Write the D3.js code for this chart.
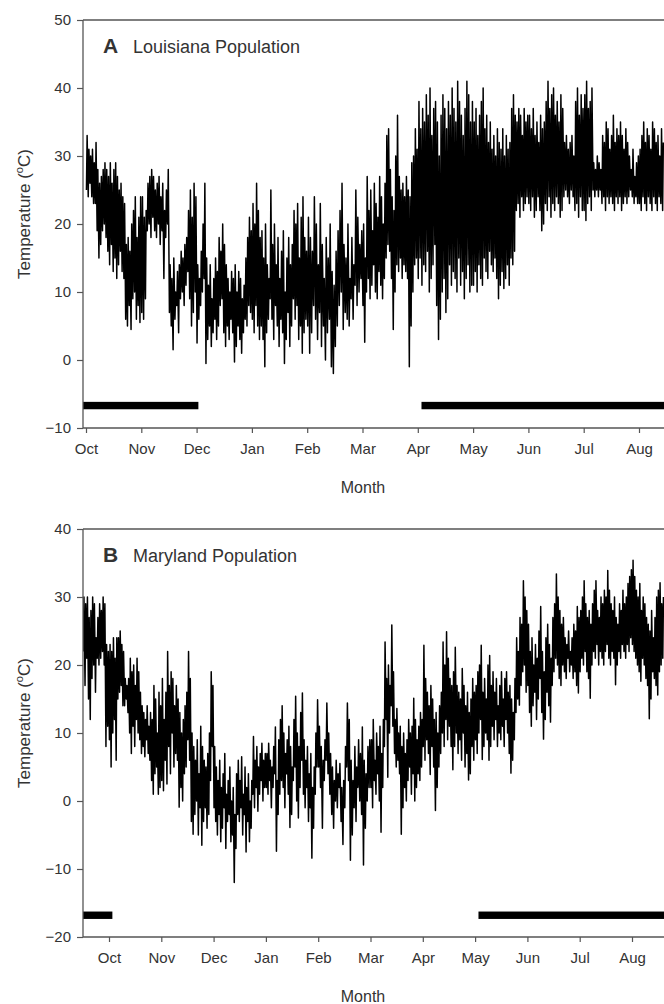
<!DOCTYPE html>
<html>
<head>
<meta charset="utf-8">
<script src="https://cdn.jsdelivr.net/npm/d3@7"></script>
<style>
  html, body { margin: 0; padding: 0; background: #fff; }
  svg { display: block; }
  text { font-family: "Liberation Sans", Arial, Helvetica, sans-serif; fill: #333; }
</style>
</head>
<body>
<script>
// ---------------- DATA ----------------
const monthLabels = ["Oct","Nov","Dec","Jan","Feb","Mar","Apr","May","Jun","Jul","Aug"];
const yTicksA = [-10, 0, 10, 20, 30, 40, 50];
const yTicksB = [-20, -10, 0, 10, 20, 30, 40];

// Louisiana: daily maximum / minimum temperature (°C), starting 2002-10-01
const louisianaStart = "2002-10-01";
const louisianaHigh = [
  33,31,30,31,29,32,28, 26,27,28, 29,28,27,29,26,28,29,27,25,26,24,23, 17,18,16,20,22,24,18,21,24,      // Oct
  24,21,22, 26,27,28,27,25,26,27,24,26,22,25, 28, 14,12,15,10,13,14,16, 15,17,18,22, 25,21,26,24,        // Nov
  14,12,16,20,26, 15,11,14,9,12, 15,13,18,16,20, 17,14,12,10,13, 12,14,10,13,12, 9,11,15,18,21, 19,      // Dec
  23,20,26,22,18, 19,15,20,14,12, 25,17,20,14,18, 12,16,19,10,15, 18,14,17,22,20, 23,15,21,24,18, 16,    // Jan
  21,18,16,24,20, 14,23,17,12,18, 15,20,13,11,16, 19,22,26,17,15, 20,12,18,14,25, 21,17,19,              // Feb
  20,15,27,22,25, 19,26,23,21,27, 24,20,26,33,34, 28,24,22,30,36, 27,25,26,24,27, 25,24,29,30,34, 31,    // Mar
  38,34,37,35,39, 36,40,33,37,38, 35,30,36,39,37, 34,38,36,40,37, 35,41,38,36,33, 37,41,39,35,38,        // Apr
  35,37,33,36,38, 40,34,36,32,35, 31,33,30,34,32, 31,34,30,33,31, 32,37,39,36,35, 37,36,33,37,35, 36,    // May
  36,34,37,33,35, 32,36,34,35,38, 41,37,39,40,36, 38,35,39,37,32, 33,31,32,33,30, 38,40,36,39,37,        // Jun
  39,41,37,38,40, 29,28,30,29,28, 33,32,35,34,31, 33,36,32,34,33, 35,33,31,34,32, 30,28,31,27,29, 30,    // Jul
  31,33,35,32,34, 33,31,35,34,32, 33,30,34,32                                                            // Aug
];
const louisianaLow = [
  25,24,26,24,23,23,19, 15,17,19, 20,18,16,14,17,13,15,12,14,16,13,12, 6,5,8,4.5,9,10,6,8,5.5,           // Oct
  7,6,9, 19,20,18,21,19,18,20,17,19,12,18, 20, 7,5,1.5,6,8,4,9, 10,8,11,13, 9,5,7,10,                    // Nov
  2.5,6,8,10,12, -0.5,3,5,2,4, 6,3,5,8,9, 4,2,5,3,6, 4,-0.3,2,5,3, 1,4,6,5,8, 7,                          // Dec
  6,4,8,5,3, 5,3,-1,4,6, 9,6,3,8,5, 2,6,4,-0.5,3, 7,2,5,9,6, 8,3,5,1,4, 6,                                // Jan
  5,1,4,8,6, 3,7,2,5,0, 4,6,-1,-2,2, 5,8,10,4.5,7, 6,5,9,6,11, 8,10,12,                                   // Feb
  8,2.6,10,12,9, 11,14,10,9,13, 11,9,12,15,17, 16,12,4.5,10,14, 13,15,12,14,13, 12,-1,5,10,14, 15,        // Mar
  12,15,11,14,13, 16,10,12,14,17, 8,3,6,10,12, 7,9,14,11,13, 12,10,15,11,13, 9,12,14,10,11,               // Apr
  11,13,10,14,12, 11,15,13,12,16, 14,13,15,12,9, 11,13,10.5,12,14, 11,15,14,16,22, 23,21,24,22,23, 24,    // May
  23,22,24,21,22, 24,22,19,20,23, 22,24,21,23,22, 24,23,21,22,24, 25,24,23,25,24, 22,23,21,24,22,         // Jun
  22,20.5,23,24,22, 25,24,25,24,25, 23,24,22,24,23, 24,23,22,24,23, 24,22,23,24,23, 24,25,24,23,24, 23,   // Jul
  23,22,24,23,22, 24,23,22,24,23, 22,24,23,22                                                             // Aug
];

// Maryland: daily maximum / minimum temperature (°C), starting 2002-09-16
const marylandStart = "2002-09-16";
const marylandHigh = [
  30,29,30,27,28, 30,29,24,27,29, 28,30,29,23,22,                                                          // Sep 16-30
  23,22,24,21,24, 24,25,23,22,18, 17,18,21,19,20, 17,21,19,16,14, 13,12,14,11,13, 12,17,15,10,16, 14,      // Oct
  18,12,16,22,17, 19,18,14,17,15, 13,10,12,14,16, 22,18,10,8,6, 9,4,11,8,6, 5,7,10,19,17,                  // Nov
  8,5,3,6,2, 4,7,1,3,5, 0,2,-2,4,6, 3,6.5,1,5,2, 4,0,3,9.5,6, 8,5,7,8.5,6, 7,                               // Dec
  7,8.5,6,5,8, 10.9,3,9,12,14, 10,7,9,11,8, 5,12,15.4,10,8, 13,15.9,9,6,8, 4,7,2,5,10, 14.9,               // Jan
  11,8,6,9,14.4, 10,7,5,3,6, 4,5.5,2,3,8, 14.4,12,6,3,8, 5,9,7,10.9,6, 4,8,9,                               // Feb
  9,12,6,10,8, 11,7,12,23.4,18, 20,17,25.9,19,12, 13.6,10,11,8,10, 7,9,12,10,11, 15.1,12,9,11,13, 12,      // Mar
  22.9,18,16,14,17, 15,12,13,10,14, 16,23.4,20,24.9,21, 18,17,19,22.6,17, 16,15,19.5,17,14, 16,13,15,18,16, // Apr
  17,19,20,22.9,16, 18,15,20,21.4,17, 19,16,18,14,17, 19,15,18,19,16, 17,15,13,18,24, 22,27,26,32.4,30, 28, // May
  26,22,24,20,23, 21,25,28.6,22,19, 24,26,23,21,27, 29,33.4,30,28,26, 27,24,23,25,22, 24,26,25,28.6,27,    // Jun
  28,30,32.4,29,27, 28,26,29,31,32.4, 28,27,30,29,31, 30,33.9,31,29,28, 30,27,26,29,28, 31,29,30,32,33, 34, // Jul
  35.4,33,31,30,32, 28,30,29,27,26, 25,28,24,27,30, 31,32.1,29,30                                          // Aug
];
const marylandLow = [
  22,17,21,15,12, 18,20,16,21,20, 21,22,20,8,11,                                                           // Sep 16-30
  9,5,10,12,6, 15,16,17,14,14, 15,13,10,7,11, 8,12,10,9,7, 8,6.5,9,7,6, 3,1,4,5,1, 2,                        // Oct
  3,1.5,6,2.5,8, 4,10,5,7,6, -0.9,2,0,4,5, 9,6,-3,-4.9,-2, 0,-5,-1,-6.5,-3, -1,-4,-2,3,8,                     // Nov
  -1,-3,-5,-2,-6, -4,-1,-7,-3,-2, -6,-5,-12,-7,-2, -3,-1,-5,-2,-7.5, -3,-6,-4,1,-1, 2,-1.5,1,3,0, 2,          // Dec
  2,1,3,-1,2, 4,-7.4,-2,1,3, 2,-1,4,1,-3.9, -2,3,5,0,-2.5, 2,6,1,-1,2, -3,-1,-8.4,-4,1, 5,                     // Jan
  5,2,-4,3,6, 4,1,-2,-4,0, -1,2,-3,-6.4,-1, 5,3,-8.7,-5,-1, -3,2,0,-2,-9.4, -4,0,2,                            // Feb
  2,-1,3,1,4, 0,-4.6,2,8,12, 3.5,10,14,11,7, 5,6,4,-4.9,-1, 2,0,3,5,1, 4,0,2,4,3, 5,                          // Mar
  8,6,9,7,3.9, 8,5,-1.4,2,5, 7,10,8,12,9, 11,8,4.6,8,10, 7,9,6,10,5, 7,3.1,4,8,6,                              // Apr
  9,7,10,12,6.1, 8,10,9,6,8, 11,9,12,8,10, 9,11,8,12,10, 7,4.1,6,9,13, 15,14.1,17,19,20, 16,                  // May
  17,13,11,14,16, 12,15,18,13,9.1, 12,16,14,11.6,17, 19,21,20,18,17, 20,19,18,21,19, 20,18,19,17,15.9,         // Jun
  19,21,20,22,19, 18,15.1,20,22,21, 23,20,22,21,20, 22,23,21,20,22, 21,17.1,20,22,21, 23,22,21,23,22, 24,      // Jul
  23,22,21,20,19, 17.6,21,20,18,17, 12.1,15,19,18,17, 15.6,19,20,21                                           // Aug
];

// Black bars (date ranges) and their level (°C)
const louisianaBars = [["2002-09-20", "2002-12-02"], ["2003-04-03", "2003-09-30"]];
const louisianaBarLevel = -6.7;
const marylandBars = [["2002-09-01", "2002-10-03"], ["2003-05-03", "2003-09-30"]];
const marylandBarLevel = -16.8;

// ---------------- LAYOUT ----------------
const W = 664, H = 1004;
const svg = d3.select("body").append("svg").attr("width", W).attr("height", H);
const FONT = '"Liberation Sans", Arial, Helvetica, sans-serif';

function parseUTC(s) { const [y, m, d] = s.split("-").map(Number); return Date.UTC(y, m - 1, d); }
// Date -> fractional month index (Oct 2002 = 0)
function monthPos(t) {
  const d = new Date(t);
  const y = d.getUTCFullYear(), mo = d.getUTCMonth();
  const start = Date.UTC(y, mo, 1), next = Date.UTC(y, mo + 1, 1);
  return (y - 2002) * 12 + mo - 9 + (t - start) / (next - start);
}
const DAY = 86400000;

function panel(cfg) {
  const { left, right, top, bottom, xr, yDomain, yTicks, start, hi, lo, bars, barLevel, letter, title, id } = cfg;
  const x = d3.scaleLinear().domain([0, 10]).range(xr);
  const y = d3.scaleLinear().domain(yDomain).range([bottom, top]);
  const g = svg.append("g");

  g.append("clipPath").attr("id", id).append("rect")
    .attr("x", left).attr("y", top).attr("width", right - left).attr("height", bottom - top);

  // temperature trace: min then max each day
  const t0 = parseUTC(start);
  const pts = [];
  hi.forEach((h, i) => {
    pts.push([monthPos(t0 + (i + 0.25) * DAY), lo[i]]);
    pts.push([monthPos(t0 + (i + 0.63) * DAY), h]);
  });
  const line = d3.line().x(d => x(d[0])).y(d => y(d[1]));
  g.append("path").attr("clip-path", `url(#${id})`)
    .attr("d", line(pts)).attr("fill", "none")
    .attr("stroke", "#000").attr("stroke-width", 1.5).attr("stroke-linejoin", "round");

  // bars
  g.append("g").attr("clip-path", `url(#${id})`).selectAll("rect").data(bars).join("rect")
    .attr("x", d => x(monthPos(parseUTC(d[0]))))
    .attr("width", d => x(monthPos(parseUTC(d[1]))) - x(monthPos(parseUTC(d[0]))))
    .attr("y", y(barLevel) - 3.7).attr("height", 7.4).attr("fill", "#000");

  // frame: top line
  g.append("line").attr("x1", left).attr("x2", right).attr("y1", top).attr("y2", top)
    .attr("stroke", "#555").attr("stroke-width", 1.3);

  // y axis
  const ya = g.append("g").attr("transform", `translate(${left},0)`)
    .call(d3.axisLeft(y).tickValues(yTicks).tickSize(6).tickPadding(6).tickFormat(d3.format("d")));
  ya.select(".domain").attr("d", `M0,${top}V${bottom}`).attr("stroke", "#555").attr("stroke-width", 1.3);
  ya.selectAll(".tick line").attr("stroke", "#555").attr("stroke-width", 1.2);
  ya.selectAll(".tick text").attr("font-family", FONT).attr("font-size", 15).attr("fill", "#333");

  // x axis
  const xa = g.append("g").attr("transform", `translate(0,${bottom})`)
    .call(d3.axisBottom(x).tickValues(d3.range(monthLabels.length)).tickSize(5).tickPadding(10)
      .tickFormat(i => monthLabels[i]));
  xa.select(".domain").attr("d", `M${left},0H${right}`).attr("stroke", "#555").attr("stroke-width", 1.3);
  xa.selectAll(".tick line").attr("stroke", "#555").attr("stroke-width", 1.2);
  xa.selectAll(".tick text").attr("font-family", FONT).attr("font-size", 15).attr("fill", "#333");

  // axis titles
  g.append("text").attr("x", 363).attr("y", bottom + 65).attr("text-anchor", "middle")
    .attr("font-size", 16).text("Month");
  const yt = g.append("text").attr("transform", `translate(30,${(top + bottom) / 2 - 10}) rotate(-90)`)
    .attr("text-anchor", "middle").attr("font-size", 17);
  yt.append("tspan").text("Temperature  (");
  yt.append("tspan").attr("font-size", 11).attr("dy", -7).text("o");
  yt.append("tspan").attr("dy", 7).text("C)");

  // panel label
  g.append("text").attr("x", left + 20).attr("y", top + 33).attr("font-size", 21)
    .attr("font-weight", "bold").attr("fill", "#111").text(letter);
  g.append("text").attr("x", left + 50).attr("y", top + 33).attr("font-size", 18).text(title);
}

panel({ id: "clipA", left: 83, right: 700, top: 20, bottom: 428, xr: [86, 639],
  yDomain: [-10, 50], yTicks: yTicksA, start: louisianaStart, hi: louisianaHigh, lo: louisianaLow,
  bars: louisianaBars, barLevel: louisianaBarLevel, letter: "A", title: "Louisiana Population" });

panel({ id: "clipB", left: 83, right: 700, top: 529, bottom: 937, xr: [109, 632],
  yDomain: [-20, 40], yTicks: yTicksB, start: marylandStart, hi: marylandHigh, lo: marylandLow,
  bars: marylandBars, barLevel: marylandBarLevel, letter: "B", title: "Maryland Population" });
</script>
</body>
</html>
